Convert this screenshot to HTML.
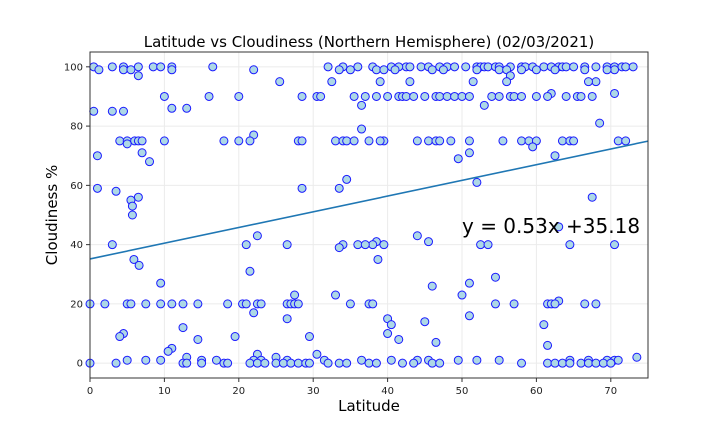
<!DOCTYPE html>
<html><head><meta charset="utf-8"><style>
html,body{margin:0;padding:0;background:#fff;}
svg{display:block;font-family:"DejaVu Sans","Liberation Sans",sans-serif;}
</style></head><body>
<svg id="chart" width="720" height="432"></svg>
<script>
// Data, grouped by cloudiness level
const rowLevels = [100,99,97,95,91,90,87,86,85,81,79,77,75,74,73,71,70,69,68,62,61,59,58,56,55,53,50,46,43,41,40,39,35,33,31,29,27,26,23,21,20,17,16,15,14,13,12,10,9,8,7,6,5,4,3,2,1,0];
const rowLats = [
 [0.5,3,4.5,6.5,8.5,9.5,11,16.5,32,34,36,38,40.5,42.5,44.5,41.5,43,45.5,47,48,49,50.5,52,52.5,53,53.5,54.5,55,56.5,58,58.5,59.5,61,62,63,63.5,64,65,66.5,68,69.5,70.5,71.5,72,73],
 [1.2,4.5,5.5,11,22,33.5,35,38.5,41,46,47.5,52,55,56,58,60,62.5,66.5,70.5,39.5,69.5],
 [6.5,56.5],
 [25.5,32.5,39,43,51.5,56,68,67],
 [62,70.5],
 [10,16,20,28.5,30.5,31,35.5,37,38.5,40,41.5,42,42.5,43.5,45,46.5,47,48,49,50,51,54,55,56.5,57,58,60,61.5,64,65.5,66,67.5],
 [36.5,53],
 [11,13],
 [0.5,3,4.5],
 [68.5],[36.5],[22],
 [4,5,6,6.5,7,10,18,20,21.5,28,28.5,33,34,34.5,35.5,37.5,39.5,39,44,45.5,46.5,47,48.5,51,55.5,58,59,60,63.5,64.5,65,71,72],
 [5],[59.5],[7,51],[1,62.5],[49.5],[8],[34.5],[52],[1,33.5,28.5],[3.5],[6.5,67.5],[5.5],[5.7],[5.7],[63],[22.5,44],[38.5,45.5],
 [3,21,26.5,34,36,38,39.5,37,52.5,53.5,64.5,70.5],
 [33.5],[5.9,38.7],[6.6],[21.5],[54.5],[9.5,51],[46],[27.5,33,50],[63],
 [0,2,5,5.5,7.5,9.5,11,12.5,14.5,18.5,20.5,21,22.5,23,26.5,27,27.5,28,35,37.5,38,54.5,57,61.5,62,62.5,66.5,68],
 [22],[51],[26.5,40],[45],[40.5,61],[12.5],[4.5,40],[4,19.5,29.5],[14.5,41.5],[46.5],[61.5],[11],[10.5],[22.5,30.5],[13,25,73.5],
 [5,7.5,9.5,15,17,22,23,26.5,31.5,36.5,40.5,44,45.5,49.5,52,55,64.5,67,69.5,70.5,71],
 [0,3.5,12.5,13,15,18,18.5,21.5,22.5,23.5,25,26,27,28,29,29.5,32,33.5,34.5,37.5,38.5,42,43.5,46,47,58,61.5,62.5,63.5,64.5,66,67,68,69,70]
];
const xTicks = [0,10,20,30,40,50,60,70];
const yTicks = [0,20,40,60,80,100];
const slope = [0.53];
const intercept = [35.18];

const NS="http://www.w3.org/2000/svg";
const svg=document.getElementById('chart');
const L=90,R=648,T=52,B=378;
const xMin=0,xMax=75,yMin=-5,yMax=105;
function xs(v){return L+(v-xMin)/(xMax-xMin)*(R-L);}
function ys(v){return B-(v-yMin)/(yMax-yMin)*(B-T);}
function mk(tag,attrs,parent){const e=document.createElementNS(NS,tag);for(const k in attrs)e.setAttribute(k,attrs[k]);(parent||svg).appendChild(e);return e;}

const grid=mk('g',{});


xTicks.forEach(t=>{
  const g=mk('line',{x1:xs(t),x2:xs(t),y1:T,y2:B,stroke:'#ebebeb','stroke-width':1},grid);
  
  
  const tk=mk('line',{x1:xs(t),x2:xs(t),y1:B,y2:B+4,stroke:'#333'});
  
  
  const tx=mk('text',{x:xs(t),y:B+16,'text-anchor':'middle','font-size':10,fill:'#222'});
  tx.textContent=t;
  
  
});
yTicks.forEach(t=>{
  const g=mk('line',{x1:L,x2:R,y1:ys(t),y2:ys(t),stroke:'#ebebeb','stroke-width':1},grid);
  
  
  const tk=mk('line',{x1:L-4,x2:L,y1:ys(t),y2:ys(t),stroke:'#333'});
  
  
  const tx=mk('text',{x:L-7,y:ys(t)+3.5,'text-anchor':'end','font-size':10,fill:'#222'});
  tx.textContent=t;
  
  
});

const pts=mk('g',{});


rowLevels.forEach((lv,i)=>{
  (rowLats[i]||[]).forEach(lat=>{
    const c=mk('circle',{cx:xs(lat),cy:ys(lv),r:4,fill:'#add8e6',stroke:'#1a1aff','stroke-width':1},pts);
    
    
  });
});

const line=mk('line',{x1:xs(xMin),y1:ys(slope[0]*xMin+intercept[0]),x2:xs(xMax),y2:ys(slope[0]*xMax+intercept[0]),stroke:'#1f77b4','stroke-width':1.6});



const eq=mk('text',{x:xs(50),y:ys(44),'font-size':20,fill:'#000'});
eq.textContent='y = '+slope[0]+'x +'+intercept[0];



const fr=mk('rect',{x:L,y:T,width:R-L,height:B-T,fill:'none',stroke:'#333','stroke-width':1});



const title=mk('text',{x:369,y:47,'text-anchor':'middle','font-size':15,fill:'#000'});
title.textContent='Latitude vs Cloudiness (Northern Hemisphere) (02/03/2021)';



const xl=mk('text',{x:369,y:411,'text-anchor':'middle','font-size':15,fill:'#000'});
xl.textContent='Latitude';



const yl=mk('text',{x:0,y:0,'text-anchor':'middle','font-size':15,fill:'#000',transform:'translate(57,215) rotate(-90)'});
yl.textContent='Cloudiness %';


</script>
</body></html>
